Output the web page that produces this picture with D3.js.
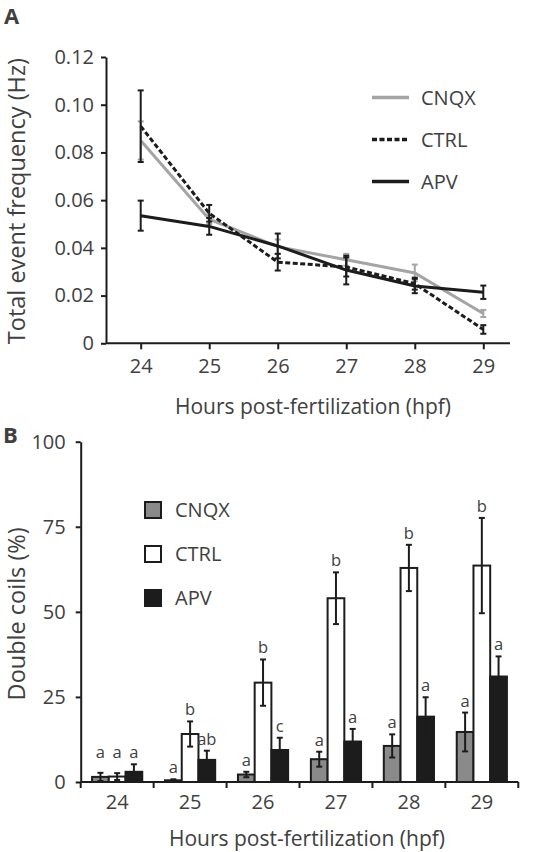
<!DOCTYPE html>
<html><head><meta charset="utf-8">
<script src="https://cdn.jsdelivr.net/npm/d3@7"></script>
<style>
body{margin:0;background:#fff}
svg{display:block}
text{font-family:"Open Sans",sans-serif;fill:#404040}
</style>
</head><body><svg id="c" width="540" height="852"></svg>
<script>
// ---------- DATA ----------
const hours = [24, 25, 26, 27, 28, 29];
const seriesNames = ["CNQX", "CTRL", "APV"];
// Panel A: total event frequency (Hz)
const freqCNQX    = [0.085, 0.052, 0.0405, 0.035, 0.0295, 0.0125];
const freqCNQXErr = [0.008, 0.002, 0.003, 0.0025, 0.0035, 0.0015];
const freqCTRL    = [0.091, 0.0545, 0.034, 0.032, 0.025, 0.0058];
const freqCTRLErr = [0.015, 0.0035, 0.0035, 0.004, 0.0025, 0.0018];
const freqAPV     = [0.0535, 0.049, 0.0408, 0.0307, 0.024, 0.0214];
const freqAPVErr  = [0.0063, 0.0035, 0.0052, 0.006, 0.003, 0.0028];
const freqTicks   = [0, 0.02, 0.04, 0.06, 0.08, 0.10, 0.12];
// Panel B: double coils (%)
const dcCNQX    = [1.5, 0.5, 2.2, 6.7, 10.6, 14.7];
const dcCNQXErr = [1.2, 0.3, 0.8, 2.2, 3.4, 5.7];
const dcCTRL    = [1.6, 14.1, 29.2, 54, 62.9, 63.6];
const dcCTRLErr = [1.0, 3.7, 6.8, 7.6, 6.8, 14.0];
const dcAPV     = [3.0, 6.5, 9.4, 11.9, 19.2, 31];
const dcAPVErr  = [2.2, 2.7, 3.6, 3.7, 5.7, 5.9];
const lettersCNQX = ["a", "a", "a", "a", "a", "a"];
const lettersCTRL = ["a", "b", "b", "b", "b", "b"];
const lettersAPV  = ["a", "ab", "c", "a", "a", "a"];
const dcTicks = [0, 25, 50, 75, 100];
const xTitle = "Hours post-fertilization (hpf)";

// ---------- STYLES ----------
const BLACK = "#1c1c1c", GRAY_LINE = "#a4a4a4", GRAY_BAR = "#8a8a8a", TXT = "#404040";
const svg = d3.select("#c");

// ---------- PANEL A ----------
const A = {left: 106, right: 510, top: 57, bottom: 343.3};
const xA = d3.scaleLinear().domain([24, 29]).range([140.7, 483.3]);
const yA = d3.scaleLinear().domain([0, 0.12]).range([A.bottom, A.top]);

const gA = svg.append("g");
const axA_y = gA.append("g").attr("transform", `translate(${A.left},0)`)
  .call(d3.axisLeft(yA).tickValues(freqTicks).tickSize(5).tickSizeOuter(0).tickPadding(7)
    .tickFormat(d => d === 0 ? "0" : d3.format(".2f")(d)));
const axA_x = gA.append("g").attr("transform", `translate(0,${A.bottom})`)
  .call(d3.axisBottom(xA).tickValues(hours).tickSize(6).tickSizeOuter(0).tickPadding(10)
    .tickFormat(d3.format("d")));
axA_x.select(".domain").attr("d", `M${A.left},0H${A.right}`);
[axA_x, axA_y].forEach(ax => {
  ax.selectAll("path,line").attr("stroke", BLACK).attr("stroke-width", 2);
  ax.selectAll("text").attr("font-size", 20).attr("fill", TXT).attr("font-family", '"Open Sans",sans-serif');
});

const seriesA = [
  {name: "CNQX", vals: freqCNQX, err: freqCNQXErr, color: GRAY_LINE, dash: null},
  {name: "CTRL", vals: freqCTRL, err: freqCTRLErr, color: BLACK, dash: "5,2.5"},
  {name: "APV",  vals: freqAPV,  err: freqAPVErr,  color: BLACK, dash: null}
];
const lineA = d3.line().x(d => xA(d.h)).y(d => yA(d.v));
seriesA.forEach(s => {
  const pts = hours.map((h, i) => ({h, v: s.vals[i], e: s.err[i]}));
  gA.append("path").datum(pts).attr("d", lineA).attr("fill", "none")
    .attr("stroke", s.color).attr("stroke-width", 3)
    .attr("stroke-dasharray", s.dash);
  const eb = gA.append("g").attr("stroke", s.color).attr("stroke-width", 2);
  pts.forEach(p => {
    const x = xA(p.h), y1 = yA(p.v - p.e), y2 = yA(p.v + p.e);
    eb.append("line").attr("x1", x).attr("x2", x).attr("y1", y1).attr("y2", y2);
    eb.append("line").attr("x1", x - 3).attr("x2", x + 3).attr("y1", y1).attr("y2", y1);
    eb.append("line").attr("x1", x - 3).attr("x2", x + 3).attr("y1", y2).attr("y2", y2);
  });
});
// legend A
const legA = gA.append("g");
seriesA.forEach((s, i) => {
  const y = 97.5 + i * 42;
  legA.append("line").attr("x1", 372).attr("x2", 409).attr("y1", y).attr("y2", y)
    .attr("stroke", s.color).attr("stroke-width", 3.5).attr("stroke-dasharray", s.dash);
  legA.append("text").attr("x", 421).attr("y", y).attr("dy", "0.36em")
    .attr("font-size", 20).attr("fill", TXT).text(s.name);
});
gA.append("text").attr("x", 313).attr("y", 414).attr("text-anchor", "middle")
  .attr("font-size", 21).attr("fill", TXT).text(xTitle);
gA.append("text").attr("transform", `translate(25,${(A.top + A.bottom) / 2 + 1}) rotate(-90)`)
  .attr("text-anchor", "middle").attr("font-size", 23.5).attr("fill", TXT).text("Total event frequency (Hz)");
svg.append("text").attr("x", 4).attr("y", 24).attr("font-size", 22).attr("font-weight", "bold")
  .attr("fill", "#333").text("A");

// ---------- PANEL B ----------
const B = {left: 80.7, right: 518.3, top: 441.7, bottom: 782};
const xB = d3.scaleBand().domain(hours).range([B.left, B.right]);
const xInner = d3.scaleBand().domain(seriesNames).range([0, xB.bandwidth()])
  .paddingInner(0).paddingOuter(0.68);
const yB = d3.scaleLinear().domain([0, 100]).range([B.bottom, B.top]);
const gB = svg.append("g");

const seriesB = [
  {name: "CNQX", vals: dcCNQX, err: dcCNQXErr, letters: lettersCNQX, fill: GRAY_BAR},
  {name: "CTRL", vals: dcCTRL, err: dcCTRLErr, letters: lettersCTRL, fill: "#ffffff"},
  {name: "APV",  vals: dcAPV,  err: dcAPVErr,  letters: lettersAPV,  fill: BLACK}
];

// bars
seriesB.forEach(s => {
  hours.forEach((h, i) => {
    const x = xB(h) + xInner(s.name);
    gB.append("rect").attr("x", x).attr("width", xInner.bandwidth())
      .attr("y", yB(s.vals[i])).attr("height", yB(0) - yB(s.vals[i]))
      .attr("fill", s.fill).attr("stroke", BLACK).attr("stroke-width", 2);
  });
});
// error bars + letters
hours.forEach((h, i) => {
  const groupLetters = seriesB.map(s => s.letters[i]);
  const allSame = groupLetters.every(l => l === groupLetters[0]);
  const groupTop = d3.max(seriesB, s => s.vals[i] + s.err[i]);
  seriesB.forEach(s => {
    const cx = xB(h) + xInner(s.name) + xInner.bandwidth() / 2;
    const top = s.vals[i] + s.err[i], bot = Math.max(0, s.vals[i] - s.err[i]);
    const eb = gB.append("g").attr("stroke", BLACK).attr("stroke-width", 2);
    eb.append("line").attr("x1", cx).attr("x2", cx).attr("y1", yB(bot)).attr("y2", yB(top));
    eb.append("line").attr("x1", cx - 3).attr("x2", cx + 3).attr("y1", yB(top)).attr("y2", yB(top));
    eb.append("line").attr("x1", cx - 3).attr("x2", cx + 3).attr("y1", yB(bot)).attr("y2", yB(bot));
    const ly = yB(allSame ? groupTop : top) - 6;
    gB.append("text").attr("x", cx).attr("y", ly).attr("text-anchor", "middle")
      .attr("font-size", 16.5).attr("fill", TXT).text(s.letters[i]);
  });
});

// axes B
const axB_y = gB.append("g").attr("transform", `translate(${B.left},0)`)
  .call(d3.axisLeft(yB).tickValues(dcTicks).tickSize(5).tickSizeOuter(0).tickPadding(10));
const axB_x = gB.append("g").attr("transform", `translate(0,${B.bottom})`)
  .call(d3.axisBottom(xB).tickSize(0).tickPadding(13));
axB_x.select(".domain").attr("d", `M${B.left},0H${B.right}`);
const boundaries = hours.map(h => xB(h)).concat([xB(hours[hours.length - 1]) + xB.bandwidth()]);
axB_x.selectAll(".bnd").data(boundaries).enter().append("line").attr("class", "bnd")
  .attr("x1", d => d).attr("x2", d => d).attr("y1", 0).attr("y2", 6);
[axB_x, axB_y].forEach(ax => {
  ax.selectAll("path,line").attr("stroke", BLACK).attr("stroke-width", 2);
  ax.selectAll("text").attr("font-size", 20).attr("fill", TXT).attr("font-family", '"Open Sans",sans-serif');
});
// legend B
seriesB.forEach((s, i) => {
  const y = 510 + i * 44;
  gB.append("rect").attr("x", 145).attr("y", y - 8).attr("width", 16).attr("height", 16)
    .attr("fill", s.fill).attr("stroke", BLACK).attr("stroke-width", 2);
  gB.append("text").attr("x", 175).attr("y", y).attr("dy", "0.36em").attr("font-size", 20)
    .attr("fill", TXT).text(s.name);
});
gB.append("text").attr("x", 307).attr("y", 846).attr("text-anchor", "middle")
  .attr("font-size", 21).attr("fill", TXT).text(xTitle);
gB.append("text").attr("transform", `translate(25,${(B.top + B.bottom) / 2 + 2}) rotate(-90)`)
  .attr("text-anchor", "middle").attr("font-size", 23.5).attr("fill", TXT).text("Double coils (%)");
svg.append("text").attr("x", 3).attr("y", 443).attr("font-size", 22).attr("font-weight", "bold")
  .attr("fill", "#333").text("B");
</script>
</body></html>
